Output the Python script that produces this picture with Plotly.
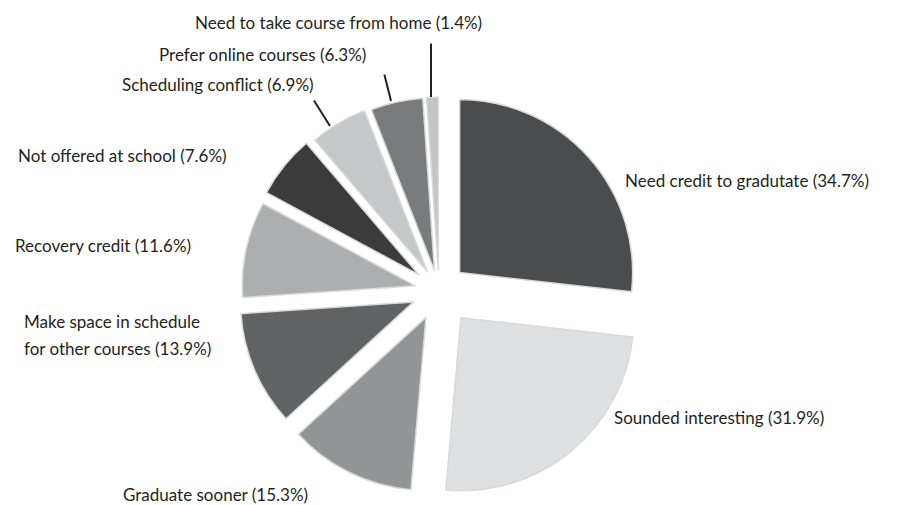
import plotly.graph_objects as go

# Reasons given for taking an online course (multiple responses allowed)
reasons = [
    "Need credit to gradutate",
    "Sounded interesting",
    "Graduate sooner",
    "Make space in schedule<br>for other courses",
    "Recovery credit",
    "Not offered at school",
    "Scheduling conflict",
    "Prefer online courses",
    "Need to take course from home",
]
percents = [34.7, 31.9, 15.3, 13.9, 11.6, 7.6, 6.9, 6.3, 1.4]
slice_colors = ["#4b4c4e", "#dfe0e1", "#939496", "#616264", "#adaeb0",
                "#3b3b3c", "#c6c7c9", "#7a7b7d", "#c3c4c6"]
slice_pulls = [0.16, 0.20, 0.17, 0.16, 0.14, 0.15, 0.13, 0.12, 0.12]

W, H = 918, 505
cx, cy = 439, 291          # pie centre in pixels
box = 415.2                # pie domain side in pixels

fig = go.Figure(go.Pie(
    labels=reasons,
    values=percents,
    sort=False,
    direction="clockwise",
    rotation=0,
    pull=slice_pulls,
    marker=dict(colors=slice_colors, line=dict(color="#d9d9d9", width=1.5)),
    textinfo="none",
    hoverinfo="label+value",
    showlegend=False,
    domain=dict(x=[(cx - box / 2) / W, (cx + box / 2) / W],
                y=[1 - (cy + box / 2) / H, 1 - (cy - box / 2) / H]),
))

FONT = dict(family="Lato, Open Sans, sans-serif", size=17, color="#231f20")
LINE_GAP = 27  # pixels between lines of a wrapped label

# label anchor points (pixels, first line) and alignment
label_pos = [
    (623, 180, "left"),
    (612, 417, "left"),
    (121, 494, "left"),
    (22, 321, "left"),
    (13, 245, "left"),
    (16, 155, "left"),
    (120, 84, "left"),
    (157, 55, "left"),
    (193, 22, "left"),
]

for name, pct, (px, py, anchor) in zip(reasons, percents, label_pos):
    lines = f"{name} ({pct}%)".split("<br>")
    for i, line in enumerate(lines):
        fig.add_annotation(
            x=px / W, y=1 - (py + i * LINE_GAP) / H, xref="paper", yref="paper",
            text=line, showarrow=False,
            xanchor=anchor, yanchor="middle", align="left", font=FONT,
        )

# leader lines for the small top slices
leaders = [
    ((431, 97), (431, 42)),
    ((391, 101), (384, 73)),
    ((330, 126), (313, 99)),
]
for (x0, y0), (x1, y1) in leaders:
    fig.add_annotation(
        x=x0 / W, y=1 - y0 / H, xref="paper", yref="paper",
        ax=x1 - x0, ay=y1 - y0, axref="pixel", ayref="pixel",
        text="", showarrow=True, arrowhead=0, arrowwidth=2, arrowcolor="#231f20",
    )

fig.update_layout(
    width=W, height=H,
    margin=dict(l=0, r=0, t=0, b=0),
    paper_bgcolor="white",
    plot_bgcolor="white",
)

fig.write_html("out.html")
